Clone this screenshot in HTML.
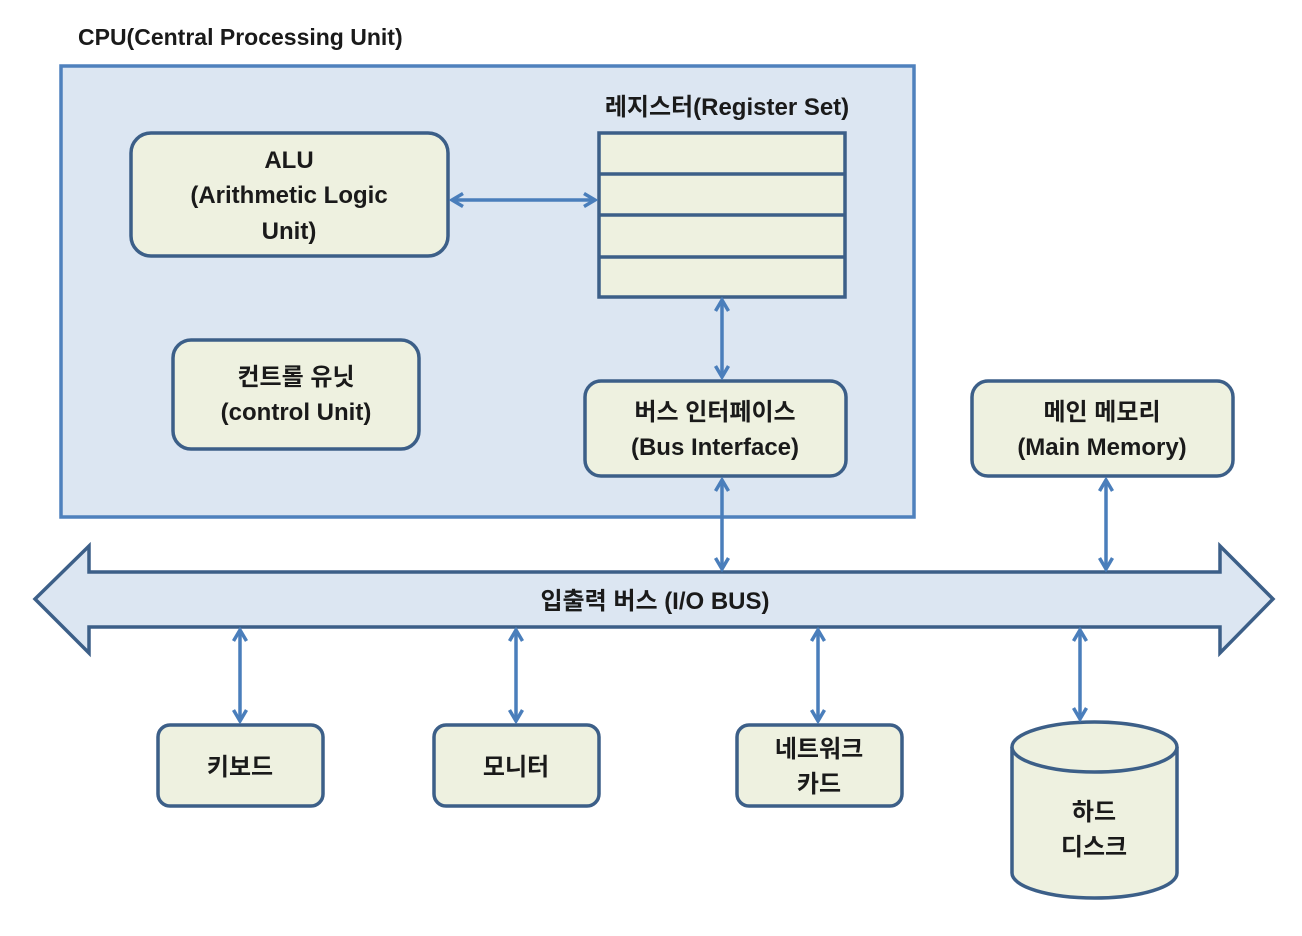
<!DOCTYPE html>
<html><head><meta charset="utf-8"><style>
html,body{margin:0;padding:0;background:#fff}
svg{display:block}
text{font-family:"Liberation Sans","Noto Sans CJK KR",sans-serif;fill:#1a1a1a;text-anchor:middle;font-weight:bold}
</style></head><body>
<svg width="1302" height="936" viewBox="0 0 1302 936">
<defs>
<marker id="a" viewBox="0 0 16 16" refX="13" refY="8" markerWidth="16" markerHeight="16" markerUnits="userSpaceOnUse" orient="auto-start-reverse">
<path d="M2,1.5 L13,8 L2,14.5" fill="none" stroke="#4a7ebb" stroke-width="3.5"/>
</marker>
</defs>
<text x="78" y="45" style="text-anchor:start" font-size="23">CPU(Central Processing Unit)</text>
<rect x="61" y="66" width="853" height="451" fill="#dce6f2" stroke="#4f81bd" stroke-width="3.5"/>
<g fill="#eef1e0" stroke="#3c5f88" stroke-width="3.5">
<rect x="131" y="133" width="317" height="123" rx="20"/>
<rect x="173" y="340" width="246" height="109" rx="18"/>
<rect x="585" y="381" width="261" height="95" rx="16"/>
<rect x="972" y="381" width="261" height="95" rx="16"/>
<rect x="158" y="725" width="165" height="81" rx="12"/>
<rect x="434" y="725" width="165" height="81" rx="12"/>
<rect x="737" y="725" width="165" height="81" rx="12"/>
<path d="M1012,747 L1012,873 A82.5,25 0 0 0 1177,873 L1177,747"/>
<ellipse cx="1094.5" cy="747" rx="82.5" ry="25"/>
</g>
<rect x="599" y="133" width="246" height="164" fill="#eef1e0" stroke="#3c5f88" stroke-width="3.5"/>
<g stroke="#3c5f88" stroke-width="3.5"><line x1="599" y1="174" x2="845" y2="174"/><line x1="599" y1="215" x2="845" y2="215"/><line x1="599" y1="257" x2="845" y2="257"/></g>
<path d="M35,599 L89,546 L89,572 L1220,572 L1220,546 L1273,599 L1220,653 L1220,627 L89,627 L89,653 Z" fill="#dce6f2" stroke="#3c5f88" stroke-width="3.5" stroke-linejoin="miter"/>
<g stroke="#4a7ebb" stroke-width="3.5" marker-start="url(#a)" marker-end="url(#a)">
<line x1="452" y1="200" x2="595" y2="200"/>
<line x1="722" y1="300" x2="722" y2="377"/>
<line x1="722" y1="480" x2="722" y2="569"/>
<line x1="1106" y1="480" x2="1106" y2="569"/>
<line x1="240" y1="630" x2="240" y2="721"/>
<line x1="516" y1="630" x2="516" y2="721"/>
<line x1="818" y1="630" x2="818" y2="721"/>
<line x1="1080" y1="630" x2="1080" y2="719"/>
</g>
<g font-size="24">
<text x="289" y="168">ALU</text>
<text x="289" y="203">(Arithmetic Logic</text>
<text x="289" y="239">Unit)</text>
<text x="727" y="115">레지스터(Register Set)</text>
<text x="296" y="385">컨트롤 유닛</text>
<text x="296" y="420">(control Unit)</text>
<text x="715" y="420">버스 인터페이스</text>
<text x="715" y="455">(Bus Interface)</text>
<text x="1102" y="420">메인 메모리</text>
<text x="1102" y="455">(Main Memory)</text>
<text x="655" y="609">입출력 버스 (I/O BUS)</text>
<text x="240" y="775">키보드</text>
<text x="516" y="775">모니터</text>
<text x="819" y="757">네트워크</text>
<text x="819" y="792">카드</text>
<text x="1094" y="820">하드</text>
<text x="1094" y="855">디스크</text>
</g>
</svg>
</body></html>
